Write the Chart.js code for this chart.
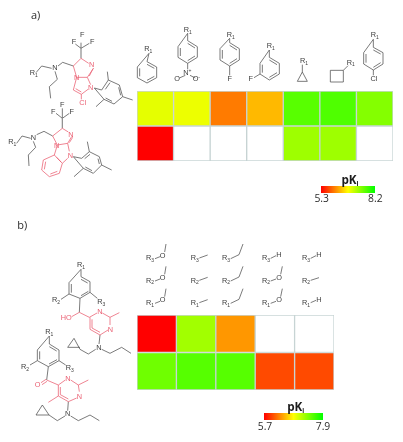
<!DOCTYPE html>
<html><head><meta charset="utf-8">
<script src="https://cdn.jsdelivr.net/npm/chart.js@4"></script>
<style>
html,body{margin:0;padding:0;background:#fff;width:403px;height:442px;overflow:hidden}
canvas{position:absolute;display:block;filter:blur(.3px)}
#ov{position:absolute;left:0;top:0;filter:blur(.3px)}
.k{fill:none;stroke:#4a4a4a;stroke-width:2.2;stroke-linejoin:round}
.g{fill:none;stroke:#8a8a8a;stroke-width:3.6}
.r{fill:none;stroke:#ea5f72;stroke-width:2.3;stroke-linejoin:round}
text{font-family:"Open Sans",sans-serif}
.t{font-family:"Liberation Sans",sans-serif;font-size:22px;fill:#3c3c3c;text-anchor:middle}
.tr{font-family:"Liberation Sans",sans-serif;font-size:22px;fill:#ea5f72;text-anchor:middle}
.s{font-size:15px}
.lab{font-size:31px;fill:#2c2c2c;text-anchor:middle}
.p{font-size:35px;font-weight:700;fill:#1c1c1c;text-anchor:middle}
.bar{position:absolute;filter:blur(.3px)}
</style></head><body>
<canvas id="ca" style="left:135.5px;top:89.5px"></canvas>
<canvas id="cb" style="left:135.5px;top:314px"></canvas>
<div class="bar" id="ba" style="left:320.5px;top:186px;width:54.5px;height:6.5px"></div>
<div class="bar" id="bb" style="left:264px;top:413px;width:59px;height:6.5px"></div>
<svg id="ov" width="403" height="442" viewBox="0 0 1209 1326" xmlns="http://www.w3.org/2000/svg">
<text x="107" y="58" class="lab" style="font-size:33px">a)</text>
<text x="67" y="688" class="lab" style="font-size:33px">b)</text>

<!-- a: substituents -->
<path class="k" d="M447 160L441 185L470 201V233L441 249L412 233V201ZM419 205V229M441 241L463 229M441 193L463 205"/>
<text x="445" y="153" class="t">R<tspan class="s" dy="5">1</tspan></text>
<path class="k" d="M563 100V122L592 140V172L563 190L534 172V140ZM541 144V168M563 182L585 168M563 130L585 144M563 190V208M556 226L538 234M570 226L586 234"/>
<text x="563" y="97" class="t">R<tspan class="s" dy="5">1</tspan></text>
<text x="562" y="226" class="t">N<tspan class="s" dy="-9">+</tspan></text>
<text x="531" y="244" class="t">O</text><text x="589" y="244" class="t">O<tspan class="s" dy="-7">-</tspan></text>
<path class="k" d="M689 115V128L718 146V180L689 198L660 180V146ZM667 150V176M689 190L711 176M689 136L711 150M689 198V226"/>
<text x="692" y="112" class="t">R<tspan class="s" dy="5">1</tspan></text>
<text x="689" y="243" class="t">F</text>
<path class="k" d="M808 150V172L838 190V222L808 240L780 222V190ZM787 194V218M808 232L831 218M808 180L831 194M780 222L762 233"/>
<text x="812" y="144" class="t">R<tspan class="s" dy="5">1</tspan></text>
<text x="752" y="243" class="t">F</text>
<path class="k" d="M907 194V216L892 244H922L907 216"/>
<text x="912" y="189" class="t">R<tspan class="s" dy="5">1</tspan></text>
<path class="k" d="M991 211H1030V246H991ZM1030 211L1044 197"/>
<text x="1052" y="194" class="t">R<tspan class="s" dy="5">1</tspan></text>
<path class="k" d="M1120 118V142L1149 158V192L1120 210L1091 192V158ZM1098 162V188M1120 202L1142 188M1120 150L1142 162M1120 210V226"/>
<text x="1124" y="112" class="t">R<tspan class="s" dy="5">1</tspan></text>
<text x="1122" y="243" class="t">Cl</text>

<!-- a: scaffold 1 -->
<path class="k" d="M108 218L125 198L155 205M174 198L188 187L220 198M165 214L172 238L148 260L152 295M283 264L305 270L325 240L358 255L368 290L342 312L312 298ZM316 268L330 248M356 262L362 286M336 304L317 294M325 240L322 215M368 290L398 300M312 298L288 320M243 145L226 132M243 145L243 128M243 145L268 130"/>
<path class="g" d="M243 175V145"/>
<path class="r" d="M220 198L243 175L266 190M281 204L262 232L230 232L220 198M268 228L279 206M230 232L220 270L244 283L264 268M227 266L244 276M262 232L272 254M244 283V298"/>
<text x="101" y="225" class="t">R<tspan class="s" dy="5">1</tspan></text>
<text x="165" y="211" class="t">N</text>
<text x="222" y="131" class="t">F</text><text x="247" y="112" class="t">F</text><text x="277" y="131" class="t">F</text>
<text x="275" y="201" class="tr">N</text><text x="230" y="240" class="tr">N</text><text x="272" y="270" class="tr">N</text><text x="248" y="316" class="tr">Cl</text>

<!-- a: scaffold 2 -->
<path class="k" d="M50 430L66 408L92 415M110 404L132 394L158 408M100 424L107 442L85 465L87 498M220 470L245 475L268 455L298 470L305 495L280 520L250 505ZM254 476L270 463M294 476L298 492M276 512L256 501M268 455L262 425M305 495L335 510M250 505L222 530M187 355L168 340M187 355V325M187 355L208 340"/>
<path class="g" d="M187 385V355"/>
<path class="r" d="M158 408L187 385L205 396M215 410L203 430L172 435L158 408M208 428L218 412M172 435L163 465L187 490L203 475M203 430L208 454M163 465L130 480L125 510L148 530L178 520L187 490M137 485L133 508M151 522L172 514M170 472L183 486"/>
<text x="37" y="432" class="t">R<tspan class="s" dy="5">1</tspan></text>
<text x="100" y="421" class="t">N</text>
<text x="160" y="341" class="t">F</text><text x="187" y="322" class="t">F</text><text x="215" y="341" class="t">F</text>
<text x="213" y="410" class="tr">N</text><text x="170" y="443" class="tr">N</text><text x="211" y="473" class="tr">N</text>

<!-- b group -->
<g transform="translate(0 630)">
<g id="r-labels">
<path class="k" d="M465 146L480 140M494 126L498 102M465 213L480 207M494 193L498 169M465 280L480 274M494 260L498 236"/>
<text x="450" y="151" class="t">R<tspan class="s" dy="5">3</tspan></text><text x="488" y="143" class="t">O</text>
<text x="450" y="218" class="t">R<tspan class="s" dy="5">2</tspan></text><text x="488" y="210" class="t">O</text>
<text x="450" y="285" class="t">R<tspan class="s" dy="5">1</tspan></text><text x="488" y="277" class="t">O</text>
<path class="k" d="M598 144L623 135M598 211L623 202M598 278L623 269"/>
<text x="584" y="151" class="t">R<tspan class="s" dy="5">3</tspan></text>
<text x="584" y="218" class="t">R<tspan class="s" dy="5">2</tspan></text>
<text x="584" y="285" class="t">R<tspan class="s" dy="5">1</tspan></text>
<path class="k" d="M692 146L717 134L729 102M692 213L717 201L729 169M692 280L717 268L729 236"/>
<text x="678" y="151" class="t">R<tspan class="s" dy="5">3</tspan></text>
<text x="678" y="218" class="t">R<tspan class="s" dy="5">2</tspan></text>
<text x="678" y="285" class="t">R<tspan class="s" dy="5">1</tspan></text>
<path class="k" d="M812 145L828 137M812 213L828 207M842 193L847 169M812 280L828 274M842 260L847 236"/>
<text x="798" y="151" class="t">R<tspan class="s" dy="5">3</tspan></text><text x="837" y="142" class="t">H</text>
<text x="798" y="218" class="t">R<tspan class="s" dy="5">2</tspan></text><text x="837" y="210" class="t">O</text>
<text x="798" y="285" class="t">R<tspan class="s" dy="5">1</tspan></text><text x="837" y="277" class="t">O</text>
<path class="k" d="M932 145L948 137M932 211L957 203M932 278L948 271"/>
<text x="918" y="151" class="t">R<tspan class="s" dy="5">3</tspan></text><text x="957" y="142" class="t">H</text>
<text x="918" y="218" class="t">R<tspan class="s" dy="5">2</tspan></text>
<text x="918" y="285" class="t">R<tspan class="s" dy="5">1</tspan></text><text x="957" y="277" class="t">H</text>
</g>

<!-- b: scaffold 1 -->
<path class="k" d="M243 178V200L270 215V247L240 265L207 252V218ZM214 222V248M243 208L263 219M265 244L243 257M207 252L183 268M270 247L292 265M240 265L238 307M287 418L265 432L240 418L222 385L203 412H240M305 418L330 430L365 412L393 430M300 375L297 402"/>
<path class="r" d="M215 320L238 307L268 322L291 309M307 309L330 322L330 345M324 360L300 375L270 358V322M276 354L300 367M276 354V328M330 322L358 308"/>
<text x="243" y="172" class="t">R<tspan class="s" dy="5">1</tspan></text>
<text x="168" y="277" class="t">R<tspan class="s" dy="5">2</tspan></text>
<text x="304" y="282" class="t">R<tspan class="s" dy="5">3</tspan></text>
<text x="297" y="420" class="t">N</text>
<text x="199" y="330" class="tr">HO</text><text x="300" y="311" class="tr">N</text><text x="331" y="366" class="tr">N</text>

<!-- b: scaffold 2 -->
<path class="k" d="M148 378V402L177 420V452L145 470L112 452V420ZM119 424V448M148 410L170 423M171 449L147 462M112 452L90 465M177 452L197 465M145 470L140 510M195 618L172 632L147 615L127 585L108 615H147M212 618L235 632L270 615L298 632M205 575L203 602"/>
<path class="r" d="M123 518L138 508M126 524L141 514M140 510L175 525L196 510M212 510L235 525L238 545M230 564L205 575L175 558V525M181 554L205 567M181 554V531M235 525L265 510M175 558L145 577"/>
<text x="148" y="373" class="t">R<tspan class="s" dy="5">1</tspan></text>
<text x="75" y="478" class="t">R<tspan class="s" dy="5">2</tspan></text>
<text x="209" y="480" class="t">R<tspan class="s" dy="5">3</tspan></text>
<text x="203" y="618" class="t">N</text>
<text x="113" y="530" class="tr">O</text><text x="204" y="512" class="tr">N</text><text x="238" y="566" class="tr">N</text>
</g>

<!-- colour-bar text -->
<text x="1050" y="551" class="p">pK<tspan style="font-size:19px" dy="7">i</tspan></text>
<text x="965" y="605" class="lab">5.3</text><text x="1126" y="605" class="lab">8.2</text>
<text x="887" y="1232" class="p">pK<tspan style="font-size:19px" dy="7">i</tspan></text>
<text x="795" y="1290" class="lab">5.7</text><text x="969" y="1290" class="lab">7.9</text>
</svg>
<script>
// Panel a: pKi per substituent, one array per scaffold row (null = not measured)
const columnsA = ["phenyl","4-nitrophenyl","4-fluorophenyl","3-fluorophenyl","cyclopropyl","cyclobutyl","4-chlorophenyl"];
const rowTopA = [6.9, 6.85, 6.0, 6.35, 7.7, 7.75, 7.45];
const rowBottomA = [5.3, null, null, null, 7.3, 7.3, null];
const rangeA = [5.3, 8.2];
// Panel b
const columnsB = ["OMe/OMe/OMe","Me/Me/Me","Et/Et/Et","OMe/OMe/H","H/Me/H"];
const rowTopB = [5.7, 7.2, 6.35, null, null];
const rowBottomB = [7.42, 7.53, 7.53, 6.02, 6.02];
const rangeB = [5.7, 7.9];

function heat(v, range) {
  if (v === null) return '#ffffff';
  const t = Math.max(0, Math.min(1, (v - range[0]) / (range[1] - range[0])));
  const r = t < .5 ? 255 : Math.round(255 * (1 - t) * 2);
  const g = t < .5 ? Math.round(510 * t) : 255;
  return `rgb(${r},${g},0)`;
}
function heatmap(id, cols, top, bottom, range, w, h) {
  const c = document.getElementById(id);
  c.width = w; c.height = h; c.style.width = w + 'px'; c.style.height = h + 'px';
  const row = (vals, label) => ({
    label, data: vals.map(() => 1),
    backgroundColor: vals.map(v => heat(v, range)),
    borderColor: 'rgba(190,206,206,.85)', borderWidth: 1, borderSkipped: false,
    barPercentage: 1, categoryPercentage: 1, stack: 's'
  });
  new Chart(c, {
    type: 'bar',
    data: { labels: cols, datasets: [row(bottom, 'bottom scaffold'), row(top, 'top scaffold')] },
    options: {
      responsive: false, animation: false, devicePixelRatio: 1,
      layout: { padding: 1 },
      plugins: { legend: { display: false }, tooltip: { enabled: false } },
      scales: {
        x: { display: false, stacked: true },
        y: { display: false, stacked: true, min: 0, max: 2 }
      }
    }
  });
}
heatmap('ca', columnsA, rowTopA, rowBottomA, rangeA, 258, 72);
heatmap('cb', columnsB, rowTopB, rowBottomB, rangeB, 199, 77);
const grad = 'linear-gradient(90deg,#ff0000 0%,#ffff00 50%,#00ff00 100%)';
document.getElementById('ba').style.background = grad;
document.getElementById('bb').style.background = grad;
</script>
</body></html>
